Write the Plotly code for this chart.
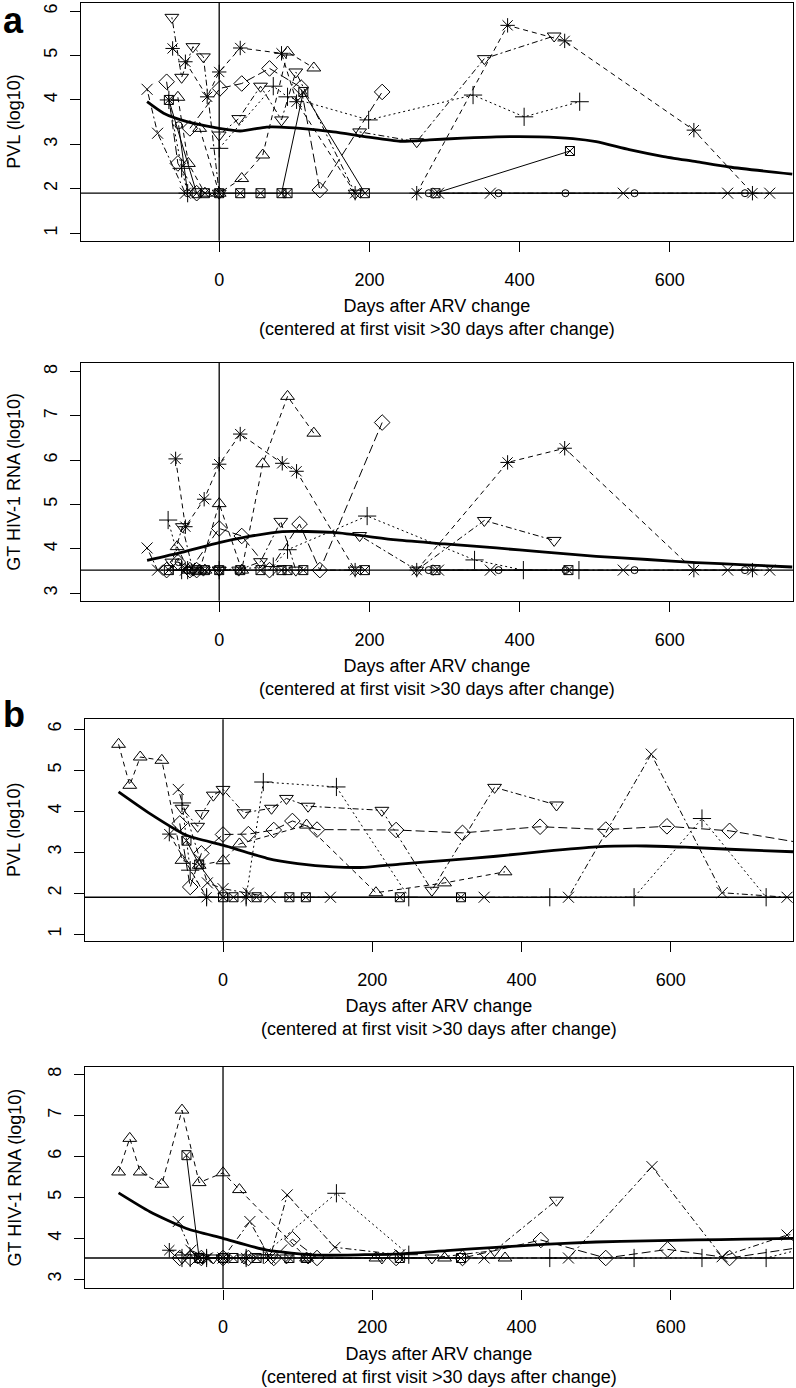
import plotly.graph_objects as go

# ---------------- data (days after ARV change, log10 values) ----------------
# Panel a, PVL
a_pvl_lod = 1.9
a_pvl_ast1_d = [-62, -45, -16, 0, 28, 83, 103, 181]
a_pvl_ast1_v = [5.16, 4.86, 4.07, 4.63, 5.17, 5.05, 3.96, 1.9]
a_pvl_ast2_d = [263, 384, 460, 632, 710]
a_pvl_ast2_v = [1.9, 5.68, 5.33, 3.32, 1.9]
a_pvl_tdn1_d = [-63, -50, -35, -21, 0]
a_pvl_tdn1_v = [5.86, 4.51, 5.20, 4.97, 1.9]
a_pvl_tdn2_d = [0, 26, 55, 83, 102, 181]
a_pvl_tdn2_v = [3.21, 3.58, 4.31, 3.55, 4.63, 1.9]
a_pvl_tdn3_d = [187, 263, 353, 446]
a_pvl_tdn3_v = [3.28, 3.06, 4.93, 5.44]
a_pvl_dia1_d = [-70, -55, -30]
a_pvl_dia1_v = [4.41, 2.57, 1.9]
a_pvl_dia2_d = [-39, 1, 30, 67, 109, 134, 217]
a_pvl_dia2_v = [3.36, 4.26, 4.37, 4.71, 4.28, 1.97, 4.18]
a_pvl_tup1_d = [-55, -41, -19]
a_pvl_tup1_v = [4.06, 2.57, 1.9]
a_pvl_tup2_d = [-26, 0, 30, 58, 91, 126]
a_pvl_tup2_v = [3.36, 1.9, 2.23, 2.76, 5.08, 4.72]
a_pvl_pls1_d = [-67, -50, -42]
a_pvl_pls1_v = [4.0, 2.46, 1.9]
a_pvl_pls2_d = [0, 72, 91, 199, 338, 406, 480]
a_pvl_pls2_v = [2.91, 4.31, 4.07, 3.55, 4.11, 3.62, 3.96]
a_pvl_sqx1_d = [-67, -30]
a_pvl_sqx1_v = [4.0, 1.9]
a_pvl_sqx2_d = [83, 112, 194]
a_pvl_sqx2_v = [1.9, 4.18, 1.9]
a_pvl_sqx3_d = [288, 467]
a_pvl_sqx3_v = [1.9, 2.85]
a_pvl_sqx4_d = [-19, 0, 28, 55, 91]
a_pvl_sqx4_v = [1.9, 1.9, 1.9, 1.9, 1.9]
a_pvl_x1_d = [-96, -82, -45]
a_pvl_x1_v = [4.24, 3.25, 1.9]
a_pvl_x2_d = [292, 361, 538, 677, 733]
a_pvl_x2_v = [1.9, 1.9, 1.9, 1.9, 1.9]
a_pvl_cir1_d = [-54, -42]
a_pvl_cir1_v = [3.43, 1.9]
a_pvl_cir2_d = [279, 372, 461, 553, 700]
a_pvl_cir2_v = [1.9, 1.9, 1.9, 1.9, 1.9]
a_pvl_fit_d = [-96, -74, -43, -16, 0, 28, 63, 81, 108, 152, 196, 241, 280, 324, 369, 426, 471, 502, 546, 590, 635, 679, 763]
a_pvl_fit_v = [3.96, 3.70, 3.51, 3.41, 3.36, 3.30, 3.39, 3.39, 3.36, 3.28, 3.17, 3.07, 3.10, 3.14, 3.17, 3.17, 3.13, 3.06, 2.88, 2.73, 2.61, 2.49, 2.33]

# Panel a, GT HIV-1 RNA
a_rna_lod = 3.52
a_rna_ast1_d = [-58, -45, -20, 0, 28, 84, 103, 181]
a_rna_ast1_v = [6.03, 4.50, 5.12, 5.91, 6.59, 5.93, 5.75, 3.52]
a_rna_ast2_d = [263, 384, 460, 632, 710]
a_rna_ast2_v = [3.52, 5.95, 6.27, 3.52, 3.52]
a_rna_tdn1_d = [-63, -49, -35, -21, 0]
a_rna_tdn1_v = [3.70, 4.50, 3.52, 3.52, 3.52]
a_rna_tdn2_d = [0, 26, 55, 82, 102, 181]
a_rna_tdn2_v = [3.52, 3.52, 3.71, 4.62, 3.52, 3.52]
a_rna_tdn3_d = [187, 263, 353, 446]
a_rna_tdn3_v = [4.30, 3.52, 4.64, 4.19]
a_rna_dia1_d = [-70, -55, -30]
a_rna_dia1_v = [3.52, 3.70, 3.52]
a_rna_dia2_d = [-39, 0, 30, 67, 107, 134, 217]
a_rna_dia2_v = [3.52, 4.46, 4.29, 3.52, 4.56, 3.52, 6.85]
a_rna_tup1_d = [-56, -41, -19]
a_rna_tup1_v = [4.05, 3.52, 3.52]
a_rna_tup2_d = [-26, 0, 30, 58, 91, 126]
a_rna_tup2_v = [3.52, 5.02, 3.52, 5.92, 7.44, 6.61]
a_rna_pls1_d = [-68, -50, -42]
a_rna_pls1_v = [4.65, 3.52, 3.52]
a_rna_pls2_d = [0, 72, 91, 197, 340, 405, 479]
a_rna_pls2_v = [3.52, 3.60, 3.98, 4.74, 3.75, 3.52, 3.52]
a_rna_sqx1_d = [-67, -30]
a_rna_sqx1_v = [3.52, 3.52]
a_rna_sqx2_d = [83, 112, 194]
a_rna_sqx2_v = [3.52, 3.52, 3.52]
a_rna_sqx3_d = [288, 465]
a_rna_sqx3_v = [3.52, 3.52]
a_rna_sqx4_d = [-19, 0, 28, 55, 91]
a_rna_sqx4_v = [3.52, 3.52, 3.52, 3.52, 3.52]
a_rna_x1_d = [-96, -82, -45]
a_rna_x1_v = [4.02, 3.52, 3.52]
a_rna_x2_d = [292, 361, 538, 677, 733]
a_rna_x2_v = [3.52, 3.52, 3.52, 3.52, 3.52]
a_rna_cir1_d = [-54, -42]
a_rna_cir1_v = [3.70, 3.52]
a_rna_cir2_d = [279, 372, 461, 553, 700]
a_rna_cir2_v = [3.52, 3.52, 3.52, 3.52, 3.52]
a_rna_fit_d = [-96, -50, 0, 40, 84, 152, 236, 300, 369, 430, 502, 570, 635, 700, 763]
a_rna_fit_v = [3.74, 3.92, 4.14, 4.28, 4.39, 4.37, 4.20, 4.11, 4.02, 3.93, 3.83, 3.76, 3.69, 3.64, 3.59]

# Panel b, PVL
b_pvl_lod = 1.9
b_pvl_tup_d = [-140, -125, -111, -82, -55, -32, 0, 22, 112, 205, 297, 378]
b_pvl_tup_v = [5.63, 4.63, 5.32, 5.24, 2.80, 2.68, 2.79, 3.20, 3.66, 2.01, 2.25, 2.52]
b_pvl_tdn_d = [-55, -34, -28, -13, 0, 28, 65, 85, 114, 213, 280, 364, 447]
b_pvl_tdn_v = [4.07, 3.63, 3.94, 4.39, 4.53, 3.96, 4.07, 4.31, 4.12, 4.02, 2.07, 4.58, 4.15]
b_pvl_dia_d = [-58, -44, -29, 0, 34, 68, 93, 126, 232, 321, 425, 513, 595, 679, 800]
b_pvl_dia_v = [3.70, 2.15, 2.97, 3.43, 3.44, 3.54, 3.76, 3.55, 3.54, 3.47, 3.62, 3.55, 3.63, 3.52, 3.15]
b_pvl_pls1_d = [-55, -44, -22]
b_pvl_pls1_v = [4.20, 2.56, 1.9]
b_pvl_pls2_d = [31, 54, 152, 249]
b_pvl_pls2_v = [1.9, 4.71, 4.59, 1.9]
b_pvl_pls3_d = [438, 551, 642, 728]
b_pvl_pls3_v = [1.9, 1.9, 3.82, 1.9]
b_pvl_x1_d = [-60, -21, 0, 34, 63, 144]
b_pvl_x1_v = [4.53, 2.25, 2.11, 2.0, 1.9, 1.9]
b_pvl_x2_d = [350, 463, 574, 669, 756]
b_pvl_x2_v = [1.9, 1.9, 5.39, 2.01, 1.9]
b_pvl_sqx_d = [-49, -32, 0, 14, 45, 89, 111, 237, 319]
b_pvl_sqx_v = [3.28, 2.70, 1.9, 1.9, 1.9, 1.9, 1.9, 1.9, 1.9]
b_pvl_ast_d = [-72, -22, 31]
b_pvl_ast_v = [3.44, 1.9, 1.9]
b_pvl_fit_d = [-140, -98, -49, 0, 59, 100, 148, 190, 237, 300, 366, 430, 500, 567, 620, 679, 764]
b_pvl_fit_v = [4.47, 3.94, 3.41, 3.17, 2.85, 2.72, 2.64, 2.63, 2.71, 2.80, 2.90, 3.02, 3.13, 3.15, 3.12, 3.07, 3.01]

# Panel b, GT HIV-1 RNA
b_rna_lod = 3.52
b_rna_tup_d = [-140, -125, -111, -82, -55, -32, 0, 22, 112, 205, 297, 378]
b_rna_tup_v = [5.62, 6.44, 5.62, 5.32, 7.13, 5.36, 5.60, 5.19, 3.52, 3.52, 3.52, 3.52]
b_rna_tdn_d = [-55, -34, -28, -13, 0, 28, 65, 85, 114, 213, 280, 364, 447]
b_rna_tdn_v = [3.52, 3.52, 3.52, 3.52, 3.52, 3.52, 3.52, 3.52, 3.52, 3.52, 3.52, 3.70, 4.93]
b_rna_dia_d = [-58, -44, -29, 0, 34, 68, 93, 126, 232, 321, 426, 513, 596, 679, 800]
b_rna_dia_v = [3.52, 3.52, 3.52, 3.52, 3.52, 3.52, 3.98, 3.52, 3.52, 3.52, 3.96, 3.52, 3.73, 3.52, 3.85]
b_rna_pls1_d = [-55, -44, -22]
b_rna_pls1_v = [3.52, 3.52, 3.52]
b_rna_pls2_d = [31, 54, 152, 249]
b_rna_pls2_v = [3.52, 3.60, 5.10, 3.60]
b_rna_pls3_d = [438, 551, 642, 728, 800]
b_rna_pls3_v = [3.52, 3.52, 3.52, 3.52, 3.85]
b_rna_x1_d = [-60, -43, -21, 0, 36, 63, 86, 150, 237]
b_rna_x1_v = [4.41, 3.71, 3.52, 3.52, 4.41, 3.52, 5.06, 3.78, 3.60]
b_rna_x2_d = [350, 463, 575, 669, 756, 800]
b_rna_x2_v = [3.52, 3.52, 5.75, 3.55, 4.08, 4.15]
b_rna_sqx_d = [-49, -32, 0, 14, 45, 89, 111, 237, 319]
b_rna_sqx_v = [6.03, 3.52, 3.52, 3.52, 3.52, 3.52, 3.52, 3.52, 3.52]
b_rna_ast_d = [-72, -22, 31]
b_rna_ast_v = [3.71, 3.52, 3.52]
b_rna_fit_d = [-140, -98, -49, 0, 59, 125, 190, 237, 300, 366, 430, 500, 567, 634, 700, 764]
b_rna_fit_v = [5.11, 4.65, 4.24, 4.00, 3.71, 3.59, 3.60, 3.62, 3.70, 3.78, 3.85, 3.91, 3.94, 3.96, 3.98, 4.00]

# tick labels / axis texts
x_ticks = [0, 200, 400, 600]
pvl_ticks = [1, 2, 3, 4, 5, 6]
rna_ticks = [3, 4, 5, 6, 7, 8]
x_title = "Days after ARV change<br>(centered at first visit >30 days after change)"
pvl_title = "PVL (log10)"
rna_title = "GT HIV-1 RNA (log10)"

# ---------------- styles ----------------
SYM = {
    "ast": ("asterisk-open", 12), "tdn": ("triangle-down-open", 12),
    "tup": ("triangle-up-open", 12), "dia": ("diamond-open", 12),
    "pls": ("cross-thin-open", 13), "sqx": ("square-x-open", 9),
    "x": ("x-thin-open", 11), "cir": ("circle-open", 7),
}
DASH = {
    "ast": "5px,4px", "tdn": "2px,3px,6px,3px", "tup": "5px,4px", "dia": "9px,4px",
    "pls": "2px,3px", "sqx": "solid", "x": "2px,3px,6px,3px", "cir": "solid",
}

FONT = "Liberation Sans, Arial, sans-serif"
W, H = 796, 1388

# panel pixel boxes: (left, right, top, bottom), x range, y range
panels = [
    dict(box=(81, 793, 2.7, 240.7), xr=[-184, 764], yr=[0.83, 6.19], ticks=pvl_ticks, title=pvl_title, lod=a_pvl_lod),
    dict(box=(81, 793, 362.7, 600.7), xr=[-184, 764], yr=[2.83, 8.20], ticks=rna_ticks, title=rna_title, lod=a_rna_lod),
    dict(box=(85, 793, 719.3, 940.7), xr=[-185, 764], yr=[0.84, 6.24], ticks=pvl_ticks, title=pvl_title, lod=b_pvl_lod),
    dict(box=(85, 793, 1066.7, 1288.3), xr=[-185, 764], yr=[2.78, 8.19], ticks=rna_ticks, title=rna_title, lod=b_rna_lod),
]

series = [
    [("ast", a_pvl_ast1_d, a_pvl_ast1_v), ("ast", a_pvl_ast2_d, a_pvl_ast2_v),
     ("tdn", a_pvl_tdn1_d, a_pvl_tdn1_v), ("tdn", a_pvl_tdn2_d, a_pvl_tdn2_v), ("tdn", a_pvl_tdn3_d, a_pvl_tdn3_v),
     ("dia", a_pvl_dia1_d, a_pvl_dia1_v), ("dia", a_pvl_dia2_d, a_pvl_dia2_v),
     ("tup", a_pvl_tup1_d, a_pvl_tup1_v), ("tup", a_pvl_tup2_d, a_pvl_tup2_v),
     ("pls", a_pvl_pls1_d, a_pvl_pls1_v), ("pls", a_pvl_pls2_d, a_pvl_pls2_v),
     ("sqx", a_pvl_sqx1_d, a_pvl_sqx1_v), ("sqx", a_pvl_sqx2_d, a_pvl_sqx2_v),
     ("sqx", a_pvl_sqx3_d, a_pvl_sqx3_v), ("sqx", a_pvl_sqx4_d, a_pvl_sqx4_v),
     ("x", a_pvl_x1_d, a_pvl_x1_v), ("x", a_pvl_x2_d, a_pvl_x2_v),
     ("cir", a_pvl_cir1_d, a_pvl_cir1_v), ("cir", a_pvl_cir2_d, a_pvl_cir2_v)],
    [("ast", a_rna_ast1_d, a_rna_ast1_v), ("ast", a_rna_ast2_d, a_rna_ast2_v),
     ("tdn", a_rna_tdn1_d, a_rna_tdn1_v), ("tdn", a_rna_tdn2_d, a_rna_tdn2_v), ("tdn", a_rna_tdn3_d, a_rna_tdn3_v),
     ("dia", a_rna_dia1_d, a_rna_dia1_v), ("dia", a_rna_dia2_d, a_rna_dia2_v),
     ("tup", a_rna_tup1_d, a_rna_tup1_v), ("tup", a_rna_tup2_d, a_rna_tup2_v),
     ("pls", a_rna_pls1_d, a_rna_pls1_v), ("pls", a_rna_pls2_d, a_rna_pls2_v),
     ("sqx", a_rna_sqx1_d, a_rna_sqx1_v), ("sqx", a_rna_sqx2_d, a_rna_sqx2_v),
     ("sqx", a_rna_sqx3_d, a_rna_sqx3_v), ("sqx", a_rna_sqx4_d, a_rna_sqx4_v),
     ("x", a_rna_x1_d, a_rna_x1_v), ("x", a_rna_x2_d, a_rna_x2_v),
     ("cir", a_rna_cir1_d, a_rna_cir1_v), ("cir", a_rna_cir2_d, a_rna_cir2_v)],
    [("tup", b_pvl_tup_d, b_pvl_tup_v), ("tdn", b_pvl_tdn_d, b_pvl_tdn_v), ("dia", b_pvl_dia_d, b_pvl_dia_v),
     ("pls", b_pvl_pls1_d, b_pvl_pls1_v), ("pls", b_pvl_pls2_d, b_pvl_pls2_v), ("pls", b_pvl_pls3_d, b_pvl_pls3_v),
     ("x", b_pvl_x1_d, b_pvl_x1_v), ("x", b_pvl_x2_d, b_pvl_x2_v),
     ("sqx", b_pvl_sqx_d, b_pvl_sqx_v), ("ast", b_pvl_ast_d, b_pvl_ast_v)],
    [("tup", b_rna_tup_d, b_rna_tup_v), ("tdn", b_rna_tdn_d, b_rna_tdn_v), ("dia", b_rna_dia_d, b_rna_dia_v),
     ("pls", b_rna_pls1_d, b_rna_pls1_v), ("pls", b_rna_pls2_d, b_rna_pls2_v), ("pls", b_rna_pls3_d, b_rna_pls3_v),
     ("x", b_rna_x1_d, b_rna_x1_v), ("x", b_rna_x2_d, b_rna_x2_v),
     ("sqx", b_rna_sqx_d, b_rna_sqx_v), ("ast", b_rna_ast_d, b_rna_ast_v)],
]
fits = [(a_pvl_fit_d, a_pvl_fit_v), (a_rna_fit_d, a_rna_fit_v),
        (b_pvl_fit_d, b_pvl_fit_v), (b_rna_fit_d, b_rna_fit_v)]

fig = go.Figure()
layout = dict(width=W, height=H, margin=dict(l=0, r=0, t=0, b=0, autoexpand=False),
              plot_bgcolor="white", paper_bgcolor="white", showlegend=False,
              font=dict(family=FONT, color="black", size=17))
shapes, annotations = [], []

for i, p in enumerate(panels):
    l, r, t, b = p["box"]
    xa = "xaxis" if i == 0 else f"xaxis{i+1}"
    ya = "yaxis" if i == 0 else f"yaxis{i+1}"
    xref = "x" if i == 0 else f"x{i+1}"
    yref = "y" if i == 0 else f"y{i+1}"
    layout[xa] = dict(domain=[l / W, r / W], range=p["xr"], anchor=yref,
                      tickvals=x_ticks, ticks="outside", ticklen=10, tickwidth=1.2,
                      tickcolor="black", showline=True, linecolor="black", linewidth=1.4,
                      mirror=True, showgrid=False, zeroline=False,
                      ticklabelstandoff=12, tickfont=dict(size=18, family=FONT))
    layout[ya] = dict(domain=[1 - b / H, 1 - t / H], range=p["yr"], anchor=xref,
                      tickvals=p["ticks"], ticks="outside", ticklen=10, tickwidth=1.2,
                      tickcolor="black", showline=True, linecolor="black", linewidth=1.4,
                      mirror=True, showgrid=False, zeroline=False, tickangle=-90,
                      ticklabelstandoff=6, tickfont=dict(size=18, family=FONT))
    shapes.append(dict(type="line", xref=f"{xref} domain", yref=yref, x0=0, x1=1,
                       y0=p["lod"], y1=p["lod"], line=dict(color="black", width=1.3), layer="below"))
    shapes.append(dict(type="line", xref=xref, yref=f"{yref} domain", x0=0, x1=0,
                       y0=0, y1=1, line=dict(color="black", width=1.3), layer="below"))
    for key, d, v in series[i]:
        sym, sz = SYM[key]
        fig.add_trace(go.Scatter(x=d, y=v, xaxis=xref, yaxis=yref, mode="lines+markers",
                                 line=dict(color="black", width=1, dash=DASH[key]),
                                 marker=dict(symbol=sym, size=sz, color="black",
                                             line=dict(color="black", width=1)),
                                 cliponaxis=True))
    fd, fv = fits[i]
    fig.add_trace(go.Scatter(x=fd, y=fv, xaxis=xref, yaxis=yref, mode="lines",
                             line=dict(color="black", width=2.8, shape="spline", smoothing=0.6)))
    cx = (l + r) / 2 / W
    annotations.append(dict(xref="paper", yref="paper", x=cx, y=1 - (b + 77) / H,
                            text=x_title, showarrow=False, font=dict(size=18),
                            xanchor="center", yanchor="middle", align="center"))
    annotations.append(dict(xref="paper", yref="paper", x=14 / W, y=1 - (t + b) / 2 / H,
                            text=p["title"], showarrow=False, textangle=-90,
                            font=dict(size=18), xanchor="center", yanchor="middle"))

annotations.append(dict(xref="paper", yref="paper", x=1 / W, y=1 - 20 / H, text="<b>a</b>",
                        showarrow=False, font=dict(size=36), xanchor="left", yanchor="middle"))
annotations.append(dict(xref="paper", yref="paper", x=1 / W, y=1 - 714 / H, text="<b>b</b>",
                        showarrow=False, font=dict(size=36), xanchor="left", yanchor="middle"))

layout["shapes"] = shapes
layout["annotations"] = annotations
fig.update_layout(**layout)
fig.write_html("out.html", config={"displayModeBar": False},
               post_script="document.body.style.margin='0';document.body.style.overflow='hidden';")
